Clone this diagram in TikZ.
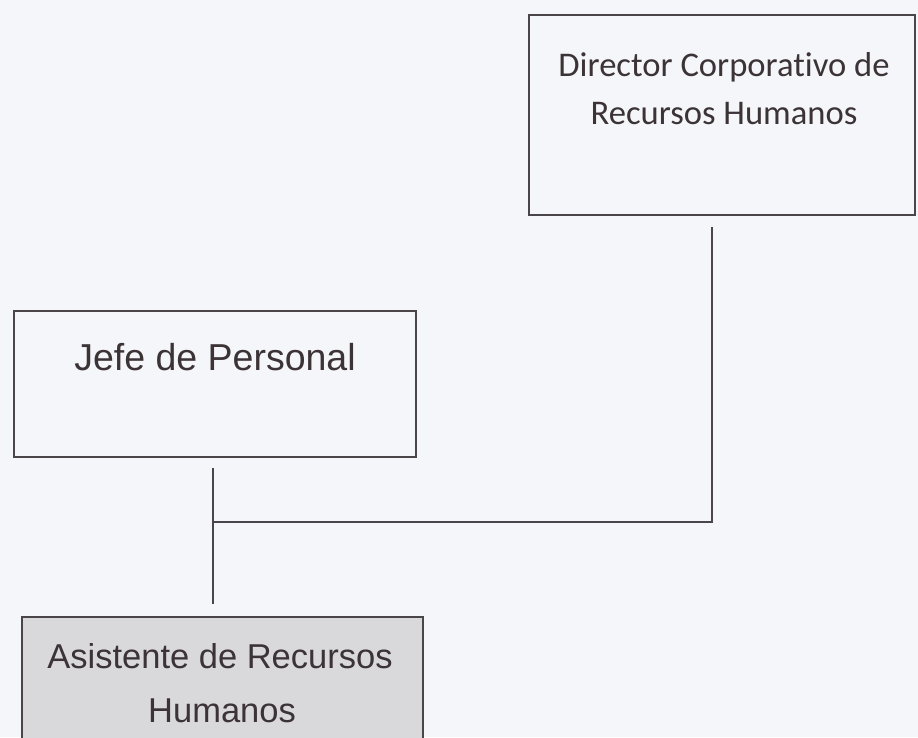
\documentclass[tikz,border=0pt]{standalone}
\usepackage{fontspec}
\newfontfamily\carl[Ligatures=NoCommon]{Carlito}
\newfontfamily\arl{Liberation Sans}
\definecolor{bg}{HTML}{F5F6F9}
\definecolor{edge}{HTML}{4A4548}
\definecolor{ink}{HTML}{3B3336}
\definecolor{grayfill}{HTML}{D9D8DB}
\begin{document}
\begin{tikzpicture}[x=1pt,y=-1pt,
  box/.style={draw=edge,line width=2.4pt,rectangle,inner sep=0pt},
  conn/.style={draw=edge,line width=2.2pt},
  txt/.style={anchor=base,inner sep=0pt,text=ink}]
\useasboundingbox (0,0) rectangle (918,737);
\fill[bg] (0,0) rectangle (918,737);
% boxes
\node[box,minimum width=386pt,minimum height=200pt] (dir) at (722,115) {};
\node[box,minimum width=402pt,minimum height=146pt] (jefe) at (215,384) {};
\node[box,fill=grayfill,minimum width=401pt,minimum height=134pt] (asis) at (222.5,684) {};
% texts
\node[txt,font=\carl\fontsize{34.6}{42}\selectfont] (dirA) at (724,76) {Director Corporativo de};
\node[txt,font=\carl\fontsize{34.6}{42}\selectfont] (dirB) at (724,124) {Recursos Humanos};
\node[txt,font=\arl\fontsize{37.5}{44}\selectfont] (jefeA) at (215,370) {Jefe de Personal};
\node[txt,font=\arl\fontsize{34.5}{42}\selectfont] (asisA) at (220,668) {Asistente de Recursos};
\node[txt,font=\arl\fontsize{34.5}{42}\selectfont] (asisB) at (222,722) {Humanos};
% connectors
\coordinate (dtop) at (712,227);
\coordinate (dcorner) at (712,522);
\coordinate (jtop) at (213,468);
\coordinate (jjoin) at (213,522);
\coordinate (abot) at (213,604);
\draw[conn] (dtop) -- (dcorner) -- (jjoin);
\draw[conn] (jtop) -- (abot);
\end{tikzpicture}
\end{document}
